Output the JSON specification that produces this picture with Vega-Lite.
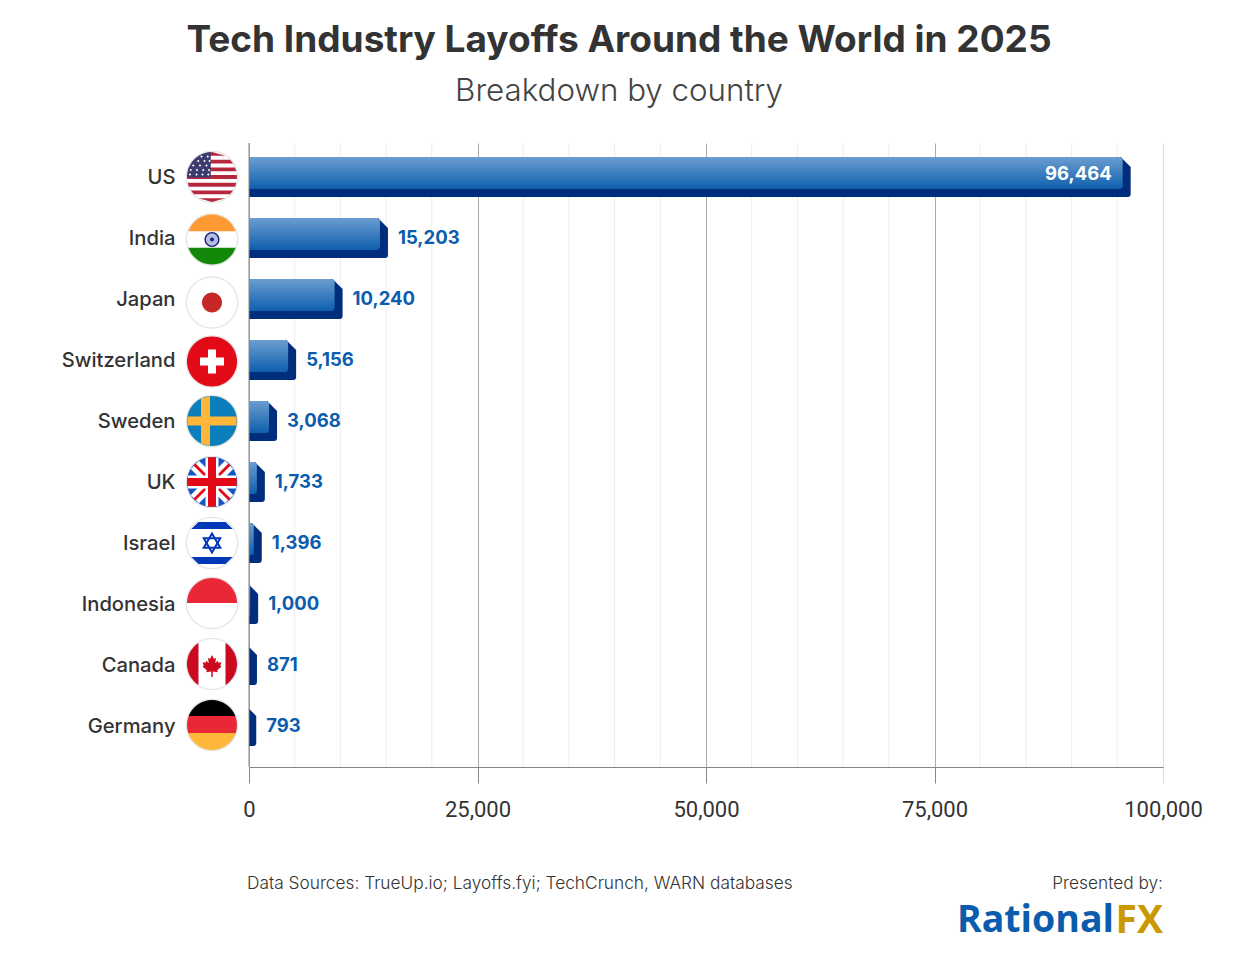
{
  "$schema": "https://vega.github.io/schema/vega-lite/v6.json",
  "autosize": "none",
  "width": 914,
  "height": 624,
  "padding": {"left": 249, "top": 143, "right": 77, "bottom": 192},
  "background": "white",
  "title": {
    "text": "Tech Industry Layoffs Around the World in 2025",
    "subtitle": "Breakdown by country",
    "anchor": "middle",
    "dx": -87,
    "offset": 34,
    "font": "Inter",
    "fontSize": 37,
    "fontWeight": 700,
    "color": "#333333",
    "subtitleFont": "Inter",
    "subtitleFontSize": 31.3,
    "subtitleFontWeight": 300,
    "subtitleColor": "#444444",
    "subtitlePadding": 16
  },
  "datasets": {
    "layoffs": [
      {"country": "US", "value": 96464},
      {"country": "India", "value": 15203},
      {"country": "Japan", "value": 10240},
      {"country": "Switzerland", "value": 5156},
      {"country": "Sweden", "value": 3068},
      {"country": "UK", "value": 1733},
      {"country": "Israel", "value": 1396},
      {"country": "Indonesia", "value": 1000},
      {"country": "Canada", "value": 871},
      {"country": "Germany", "value": 793}
    ],
    "flags": [
      {"country": "US", "part": "rim"}, {"country": "US", "part": "white"}, {"country": "US", "part": "us_stripes"}, {"country": "US", "part": "us_canton"}, {"country": "US", "part": "us_stars"},
      {"country": "India", "part": "rim"}, {"country": "India", "part": "white"}, {"country": "India", "part": "in_saffron"}, {"country": "India", "part": "in_green"}, {"country": "India", "part": "in_wheel_bg"}, {"country": "India", "part": "in_wheel"},
      {"country": "Japan", "part": "rim"}, {"country": "Japan", "part": "white"}, {"country": "Japan", "part": "jp_sun"},
      {"country": "Switzerland", "part": "rim"}, {"country": "Switzerland", "part": "ch_red"}, {"country": "Switzerland", "part": "ch_cross"},
      {"country": "Sweden", "part": "rim"}, {"country": "Sweden", "part": "se_blue"}, {"country": "Sweden", "part": "se_cross"},
      {"country": "UK", "part": "rim"}, {"country": "UK", "part": "uk_blue"}, {"country": "UK", "part": "uk_diag_white"}, {"country": "UK", "part": "uk_diag_red"}, {"country": "UK", "part": "uk_cross_white"}, {"country": "UK", "part": "uk_cross_red"},
      {"country": "Israel", "part": "rim"}, {"country": "Israel", "part": "white"}, {"country": "Israel", "part": "il_bands"}, {"country": "Israel", "part": "il_star_up"}, {"country": "Israel", "part": "il_star_down"},
      {"country": "Indonesia", "part": "rim"}, {"country": "Indonesia", "part": "white"}, {"country": "Indonesia", "part": "id_red"},
      {"country": "Canada", "part": "rim"}, {"country": "Canada", "part": "white"}, {"country": "Canada", "part": "ca_bands"}, {"country": "Canada", "part": "ca_leaf"},
      {"country": "Germany", "part": "rim"}, {"country": "Germany", "part": "de_black"}, {"country": "Germany", "part": "de_red"}, {"country": "Germany", "part": "de_gold"}
    ]
  },
  "layer": [
    {
      "data": {"values": [
        {"g": 5000}, {"g": 10000}, {"g": 15000}, {"g": 20000}, {"g": 30000}, {"g": 35000}, {"g": 40000}, {"g": 45000},
        {"g": 55000}, {"g": 60000}, {"g": 65000}, {"g": 70000}, {"g": 80000}, {"g": 85000}, {"g": 90000}, {"g": 95000}
      ]},
      "mark": {"type": "rule", "color": "#eeeeee", "strokeWidth": 1},
      "encoding": {"x": {"field": "g", "type": "quantitative", "title": null, "scale": {"domain": [0, 100000], "nice": false},
        "axis": {
          "values": [0, 25000, 50000, 75000, 100000],
          "format": ",d",
          "grid": true,
          "gridColor": {"condition": {"test": "datum.value === 100000", "value": "#dddddd"}, "value": "#aaaaaa"},
          "tickColor": {"condition": {"test": "datum.value === 100000", "value": "#dddddd"}, "value": "#888888"},
          "domainColor": "#888888",
          "tickSize": 16,
          "labelPadding": 16,
          "labelFont": "Roboto",
          "labelFontSize": 22,
          "labelColor": "#333333",
          "labelFlush": false
        }}}
    },
    {
      "data": {"name": "layoffs"},
      "encoding": {
        "y": {
          "field": "country",
          "type": "nominal",
          "sort": null,
          "title": null,
          "scale": {"paddingInner": 0.344, "paddingOuter": 0.287, "align": 0.4},
          "axis": {
            "domain": false,
            "ticks": false,
            "labelPadding": 74,
            "labelOffset": 1,
            "labelFont": "Inter",
            "labelFontSize": 20.2,
            "labelFontWeight": 500,
            "labelColor": "#333333"
          }
        },
        "x": {
          "field": "value",
          "type": "quantitative",
          "title": null
        }
      },
      "layer": [
        {
          "mark": {"type": "bar", "size": 40, "color": "#002d7c", "clip": true, "xOffset": -9.5},
          "encoding": {"x2": {"datum": 0}}
        },
        {
          "mark": {"type": "point", "filled": true, "opacity": 1, "size": 4, "color": "#002d7c", "clip": true, "strokeWidth": 0,
            "shape": "M-10,-20L0,-10L0,17Q0,20 -3,20L-10,20Z"}
        },
        {
          "mark": {"type": "bar", "size": 32, "yOffset": -4, "xOffset": -8, "clip": true, "cornerRadiusTopRight": 3, "cornerRadiusBottomRight": 3,
            "color": {"gradient": "linear", "x1": 0, "y1": 0, "x2": 0, "y2": 1, "stops": [{"offset": 0, "color": "#6c9dd0"}, {"offset": 1, "color": "#0e5fae"}]}},
          "encoding": {"x2": {"datum": 0}}
        },
        {
          "transform": [{"filter": "datum.country !== 'US'"}],
          "mark": {"type": "text", "align": "left", "dx": 10, "dy": 0, "font": "Inter", "fontSize": 18.5, "fontWeight": 700, "color": "#0b5cad"},
          "encoding": {"text": {"field": "value", "type": "quantitative", "format": ","}}
        },
        {
          "transform": [{"filter": "datum.country === 'US'"}],
          "mark": {"type": "text", "align": "right", "dx": -19, "dy": -3, "font": "Inter", "fontSize": 18.5, "fontWeight": 700, "color": "#ffffff"},
          "encoding": {"text": {"field": "value", "type": "quantitative", "format": ","}}
        }
      ]
    },
    {
      "data": {"name": "flags"},
      "encoding": {
        "y": {
          "field": "country",
          "type": "nominal",
          "title": null,
          "axis": null,
          "scale": {
            "type": "band",
            "domain": ["US", "India", "Japan", "Switzerland", "Sweden", "UK", "Israel", "Indonesia", "Canada", "Germany"],
            "paddingInner": 0.344, "paddingOuter": 0.287, "align": 0.4
          }
        },
        "x": {"datum": -4048, "type": "quantitative", "title": null},
        "color": {
          "field": "part",
          "type": "nominal",
          "legend": null,
          "scale": {
            "domain": ["rim", "white", "us_stripes", "us_canton", "us_stars", "in_saffron", "in_green", "in_wheel_bg", "in_wheel", "jp_sun", "ch_red", "ch_cross", "se_blue", "se_cross", "uk_blue", "uk_diag_white", "uk_diag_red", "uk_cross_white", "uk_cross_red", "il_bands", "il_star_up", "il_star_down", "id_red", "ca_bands", "ca_leaf", "de_black", "de_red", "de_gold"],
            "range": ["#e4e4e4", "#ffffff", "#b5283e", "#3c3b6e", "#ffffff", "#ff9933", "#138808", "#b7bfe0", "#1a237e", "#c62828", "#e30a17", "#ffffff", "#0b7fbb", "#ffb739", "#1655c5", "#ffffff", "#e30a17", "#ffffff", "#e30a17", "#0038b8", "#0038b8", "#0038b8", "#e92736", "#cc0a1f", "#cc0a1f", "#000000", "#e92736", "#ffb739"]
          }
        },
        "shape": {
          "field": "part",
          "type": "nominal",
          "legend": null,
          "scale": {
            "domain": ["rim", "white", "us_stripes", "us_canton", "us_stars", "in_saffron", "in_green", "in_wheel_bg", "in_wheel", "jp_sun", "ch_red", "ch_cross", "se_blue", "se_cross", "uk_blue", "uk_diag_white", "uk_diag_red", "uk_cross_white", "uk_cross_red", "il_bands", "il_star_up", "il_star_down", "id_red", "ca_bands", "ca_leaf", "de_black", "de_red", "de_gold"],
            "range": [
              "M-1.05,0A1.05,1.05 0 1,1 1.05,0A1.05,1.05 0 1,1 -1.05,0Z",
              "M-1,0A1,1 0 1,1 1,0A1,1 0 1,1 -1,0Z",
              "M-.533,-.846L0,-1L.533,-.846ZM-.722,-.692L.722,-.692L.843,-.538L-.843,-.538ZM-.923,-.385L.923,-.385L.973,-.231L-.973,-.231ZM-.997,-.077L.997,-.077L.997,.077L-.997,.077ZM-.973,.231L.973,.231L.923,.385L-.923,.385ZM-.843,.538L.843,.538L.722,.692L-.722,.692ZM-.533,.846L.533,.846L0,1Z",
              "M-.05,-.999A1,1 0 0,0 -1,.02L-.05,.02Z",
              "M-.47,-.82L-.42,-.87L-.37,-.82L-.42,-.77ZM-.22,-.82L-.17,-.87L-.12,-.82L-.17,-.77ZM-.6,-.64L-.55,-.69L-.5,-.64L-.55,-.59ZM-.35,-.64L-.3,-.69L-.25,-.64L-.3,-.59ZM-.15,-.64L-.1,-.69L-.05,-.64L-.1,-.59ZM-.8,-.46L-.75,-.51L-.7,-.46L-.75,-.41ZM-.53,-.46L-.48,-.51L-.43,-.46L-.48,-.41ZM-.27,-.46L-.22,-.51L-.17,-.46L-.22,-.41ZM-.9,-.28L-.85,-.33L-.8,-.28L-.85,-.23ZM-.65,-.28L-.6,-.33L-.55,-.28L-.6,-.23ZM-.4,-.28L-.35,-.33L-.3,-.28L-.35,-.23ZM-.17,-.28L-.12,-.33L-.07,-.28L-.12,-.23ZM-.93,-.1L-.88,-.15L-.83,-.1L-.88,-.05ZM-.67,-.1L-.62,-.15L-.57,-.1L-.62,-.05ZM-.43,-.1L-.38,-.15L-.33,-.1L-.38,-.05ZM-.2,-.1L-.15,-.15L-.1,-.1L-.15,-.05Z",
              "M-.944,-.33A1,1 0 0,1 .944,-.33Z",
              "M.944,.33A1,1 0 0,1 -.944,.33Z",
              "M-.24,0A.24,.24 0 1,1 .24,0A.24,.24 0 1,1 -.24,0Z",
              "M-.3,0A.3,.3 0 1,1 .3,0A.3,.3 0 1,1 -.3,0ZM-.24,0A.24,.24 0 1,0 .24,0A.24,.24 0 1,0 -.24,0ZM-.08,0A.08,.08 0 1,1 .08,0A.08,.08 0 1,1 -.08,0Z",
              "M-.4,0A.4,.4 0 1,1 .4,0A.4,.4 0 1,1 -.4,0Z",
              "M-1,0A1,1 0 1,1 1,0A1,1 0 1,1 -1,0Z",
              "M-.16,-.48L.16,-.48L.16,-.16L.48,-.16L.48,.16L.16,.16L.16,.48L-.16,.48L-.16,.16L-.48,.16L-.48,-.16L-.16,-.16Z",
              "M-1,0A1,1 0 1,1 1,0A1,1 0 1,1 -1,0Z",
              "M-.44,-.898L-.08,-.997L-.08,-.18L.984,-.18L.984,.18L-.08,.18L-.08,.997L-.44,.898L-.44,.18L-.984,.18L-.984,-.18L-.44,-.18Z",
              "M-1,0A1,1 0 1,1 1,0A1,1 0 1,1 -1,0Z",
              "M-.85,-.52L-.52,-.85L.85,.52L.52,.85ZM.52,-.85L.85,-.52L-.52,.85L-.85,.52Z",
              "M-.74,-.66L-.66,-.74L.74,.66L.66,.74ZM.66,-.74L.74,-.66L-.66,.74L-.74,.66Z",
              "M-.26,-.966L.26,-.966L.26,-.26L.966,-.26L.966,.26L.26,.26L.26,.966L-.26,.966L-.26,.26L-.966,.26L-.966,-.26L-.26,-.26Z",
              "M-.16,-.987L.16,-.987L.16,-.16L.987,-.16L.987,.16L.16,.16L.16,.987L-.16,.987L-.16,.16L-.987,.16L-.987,-.16L-.16,-.16Z",
              "M-.54,-.84L.54,-.84L.83,-.56L-.83,-.56ZM-.83,.56L.83,.56L.54,.84L-.54,.84Z",
              "M0,-.46L.4,.23L-.4,.23ZM0,-.3L-.26,.15L.26,.15Z",
              "M0,.46L-.4,-.23L.4,-.23ZM0,.3L.26,-.15L-.26,-.15Z",
              "M-1,0A1,1 0 0,1 1,0Z",
              "M.54,-.842A1,1 0 0,1 .54,.842ZM-.54,.842A1,1 0 0,1 -.54,-.842Z",
              "M0,-.36L.08,-.2L.16,-.25L.13,-.03L.22,-.13L.26,-.05L.38,-.07L.33,.07L.38,.1L.2,.26L.24,.33L.03,.3L.03,.52L-.03,.52L-.03,.3L-.24,.33L-.2,.26L-.38,.1L-.33,.07L-.38,-.07L-.26,-.05L-.22,-.13L-.13,-.03L-.16,-.25L-.08,-.2Z",
              "M-.933,-.36A1,1 0 0,1 .933,-.36Z",
              "M-.933,-.36L.933,-.36A1,1 0 0,1 .947,.32L-.947,.32A1,1 0 0,1 -.933,-.36Z",
              "M-.947,.32L.947,.32A1,1 0 0,1 -.947,.32Z"
            ]
          }
        }
      },
      "layer": [
        {
          "transform": [{"filter": {"field": "country", "oneOf": ["US", "Sweden", "UK", "Israel"]}}],
          "mark": {"type": "point", "filled": true, "opacity": 1, "size": 2500, "strokeWidth": 0}
        },
        {
          "transform": [{"filter": {"field": "country", "oneOf": ["India", "Switzerland"]}}],
          "mark": {"type": "point", "filled": true, "opacity": 1, "size": 2500, "strokeWidth": 0, "yOffset": 1.5}
        },
        {
          "transform": [{"filter": {"field": "country", "equal": "Japan"}}],
          "mark": {"type": "point", "filled": true, "opacity": 1, "size": 2500, "strokeWidth": 0, "yOffset": 3.5}
        },
        {
          "transform": [{"filter": {"field": "country", "oneOf": ["Indonesia", "Canada", "Germany"]}}],
          "mark": {"type": "point", "filled": true, "opacity": 1, "size": 2500, "strokeWidth": 0, "yOffset": -1}
        }
      ]
    },
    {
      "data": {"values": [{"base": 0}]},
      "mark": {"type": "rule", "color": "#888888"},
      "encoding": {"x": {"field": "base", "type": "quantitative", "title": null}}
    },
    {
      "data": {"values": [
        {"text": "Data Sources: TrueUp.io; Layoffs.fyi; TechCrunch, WARN databases", "row": "source", "pos": 0},
        {"text": "Presented by:", "row": "source", "pos": 100000},
        {"text": "Rational", "row": "logo", "pos": 94640},
        {"text": "FX", "row": "logo", "pos": 100000}
      ]},
      "encoding": {
        "x": {"field": "pos", "type": "quantitative", "title": null},
        "y": {"field": "row", "type": "nominal", "axis": null, "scale": {"type": "point", "domain": ["source", "logo"], "range": [740.5, 778], "padding": 0}},
        "text": {"field": "text", "type": "nominal"}
      },
      "layer": [
        {
          "transform": [{"filter": "datum.pos === 0"}],
          "mark": {"type": "text", "align": "left", "dx": -2, "font": "Inter", "fontSize": 17.3, "fontWeight": 300, "color": "#333333"}
        },
        {
          "transform": [{"filter": "datum.text === 'Presented by:'"}],
          "mark": {"type": "text", "align": "right", "font": "Inter", "fontSize": 17.3, "fontWeight": 300, "color": "#333333"}
        },
        {
          "transform": [{"filter": "datum.text === 'Rational'"}],
          "mark": {"type": "text", "align": "right", "font": "Open Sans", "fontSize": 37.5, "fontWeight": 700, "color": "#0b5cad"}
        },
        {
          "transform": [{"filter": "datum.text === 'FX'"}],
          "mark": {"type": "text", "align": "right", "font": "Open Sans", "fontSize": 39, "fontWeight": 700, "color": "#c99a00"}
        }
      ]
    }
  ],
  "resolve": {"scale": {"y": "independent"}},
  "config": {"view": {"stroke": null}, "axisX": {"zindex": 0}}
}
